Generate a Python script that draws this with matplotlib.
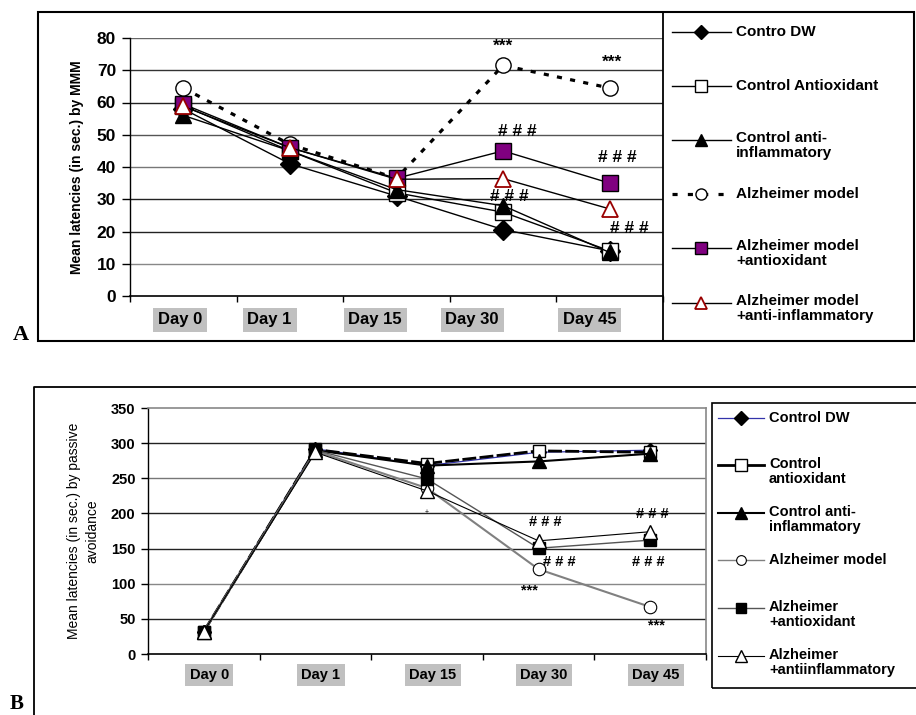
import matplotlib
matplotlib.use("Agg")
import matplotlib.pyplot as plt
from matplotlib.lines import Line2D

plt.rcParams['font.family'] = ['Liberation Sans', 'DejaVu Sans']

## Data
days = ['Day 0', 'Day 1', 'Day 15', 'Day 30', 'Day 45']

# Panel A - MWM latencies
a_names = ['Contro DW', 'Control Antioxidant', 'Control anti-\ninflammatory',
           'Alzheimer model', 'Alzheimer model\n+antioxidant',
           'Alzheimer model\n+anti-inflammatory']
a_control_dw = [58, 41, 31, 20.6, 14]
a_control_antiox = [59, 45, 32, 26, 14]
a_control_antiinf = [56, 45, 33, 28, 13.5]
a_alz = [64.5, 47, 36.5, 71.5, 64.5]
a_alz_antiox = [59.5, 46, 36.5, 45, 35]
a_alz_antiinf = [58.8, 46, 36.2, 36.4, 27]

# Panel B - passive avoidance latencies
b_names = ['Control DW', 'Control\nantioxidant', 'Control anti-\ninflammatory',
           'Alzheimer model', 'Alzheimer\n+antioxidant',
           'Alzheimer\n+antiinflammatory']
b_control_dw = [32, 292, 268, 287, 290]
b_control_antiox = [32, 291, 271, 289, 287]
b_control_antiinf = [32, 290, 268, 274, 285]
b_alz = [32, 289, 236, 120.6, 67]
b_alz_antiox = [32, 290, 249, 150.5, 162]
b_alz_antiinf = [32, 287, 232, 161, 174]

W, H = 916, 715


def fx(px):
    return px / W


def fy(py):
    return 1 - py / H


fig = plt.figure(figsize=(9.16, 7.15), dpi=100)
fig.patch.set_facecolor('white')

x = list(range(len(days)))

# ---------------- Panel A ----------------
axA = fig.add_axes([fx(130), fy(296), fx(533), 258 / H])
a_series = [a_control_dw, a_control_antiox, a_control_antiinf, a_alz, a_alz_antiox, a_alz_antiinf]
a_styles = [
    dict(marker='D', ms=10, mfc='black', mec='black', color='black', lw=1),
    dict(marker='s', ms=11, mfc='white', mec='black', color='black', lw=1),
    dict(marker='^', ms=12, mfc='black', mec='black', color='black', lw=1),
    dict(marker='o', ms=11, mfc='white', mec='black', color='black', lw=2.3, ls=(0, (1.6, 2.6))),
    dict(marker='s', ms=12, mfc='#800080', mec='black', color='black', lw=1),
    dict(marker='^', ms=12, mfc='white', mec='#990000', mew=1.3, color='black', lw=1),
]
for s, st in zip(a_series, a_styles):
    axA.plot(x, s, zorder=3, **st)

axA.set_xlim(-0.5, 4.5)
axA.set_ylim(0, 80)
axA.set_yticks(range(0, 81, 10))
grid_a = ['#888888', '#222222', '#222222', '#777777', '#555555', '#222222', '#333333', '#666666']
for v, c in zip(range(10, 81, 10), grid_a):
    axA.axhline(v, color=c, lw=1, zorder=1)
axA.set_xticks([-0.5, 0.5, 1.5, 2.5, 3.5, 4.5])
axA.set_xticklabels([])
axA.tick_params(axis='x', direction='out', length=4, width=1)
axA.tick_params(axis='y', direction='out', length=6, width=1, pad=4)
for lab in axA.get_yticklabels():
    lab.set_fontweight('bold')
    lab.set_fontsize(12.5)
axA.spines['top'].set_visible(False)
axA.spines['right'].set_visible(False)
axA.spines['left'].set_linewidth(1)
axA.spines['bottom'].set_linewidth(1.2)
axA.set_ylabel('Mean latencies (in sec.) by MMM', fontsize=10, fontweight='bold', labelpad=9)

a_label_x = [-0.03, 0.81, 1.8, 2.71, 3.81]
for xi, d in zip(a_label_x, days):
    axA.text(xi, -7.4, d, ha='center', va='center', fontsize=12, fontweight='bold',
             bbox=dict(boxstyle='square,pad=0.28', fc='#c0c0c0', ec='none'), clip_on=False)

a_notes = [(3.0, 77.5, '***'), (4.02, 72.5, '***'), (3.13, 51, '# # #'),
           (4.07, 43, '# # #'), (3.06, 31, '# # #'), (4.18, 21, '# # #')]
for xi, yi, t in a_notes:
    axA.text(xi, yi, t, ha='center', va='center', fontsize=12.5, fontweight='bold', zorder=5)

# outer box and legend divider
fig.add_artist(plt.Rectangle((fx(38), fy(341)), fx(876), 329 / H, fill=False, ec='black', lw=1.5,
                             transform=fig.transFigure))
fig.add_artist(Line2D([fx(663), fx(663)], [fy(12), fy(341)], color='black', lw=1.3,
                      transform=fig.transFigure))
fig.text(fx(21), fy(340), 'A', fontsize=16, fontweight='bold', family='Liberation Serif',
         ha='center', va='baseline')

a_leg_y = [32, 86, 140, 194, 248, 303]
a_leg_ms = [7, 8, 9, 8, 8, 9]
for yy, st, ms, name in zip(a_leg_y, a_styles, a_leg_ms, a_names):
    st2 = dict(st)
    st2['ms'] = ms
    if 'ls' in st2:
        st2['ls'] = (0, (1.6, 3.2))
        st2['lw'] = 2.3
    fig.add_artist(Line2D([fx(672), fx(701), fx(731)], [fy(yy)] * 3, markevery=[1],
                          transform=fig.transFigure, **st2))
    if '\n' in name:
        fig.text(fx(736), fy(yy - 9), name, fontsize=11, fontweight='bold', va='top',
                 linespacing=1.1)
    else:
        fig.text(fx(736), fy(yy), name, fontsize=11, fontweight='bold', va='center')

# ---------------- Panel B ----------------
axB = fig.add_axes([fx(148), fy(654), fx(558), 246 / H])
b_series = [b_control_dw, b_control_antiox, b_control_antiinf, b_alz, b_alz_antiox, b_alz_antiinf]
b_styles = [
    dict(marker='D', ms=7, mfc='black', mec='black', color='#3333aa', lw=0.9),
    dict(marker='s', ms=9, mfc='white', mec='black', color='black', lw=2, ls=(0, (5, 1.2))),
    dict(marker='^', ms=10, mfc='black', mec='black', color='black', lw=1.5),
    dict(marker='o', ms=9, mfc='white', mec='black', mew=0.8, color='#808080', lw=1.5),
    dict(marker='s', ms=8, mfc='black', mec='black', color='#555555', lw=1),
    dict(marker='^', ms=10, mfc='white', mec='black', color='black', lw=0.8),
]
for s, st in zip(b_series, b_styles):
    axB.plot(x, s, zorder=3, **st)

axB.set_xlim(-0.5, 4.5)
axB.set_ylim(0, 350)
axB.set_yticks(range(0, 351, 50))
grid_b = ['#222222', '#888888', '#222222', '#222222', '#777777', '#222222']
for v, c in zip(range(50, 301, 50), grid_b):
    axB.axhline(v, color=c, lw=1, zorder=1)
axB.set_xticks([-0.5, 0.5, 1.5, 2.5, 3.5, 4.5])
axB.set_xticklabels([])
axB.tick_params(axis='x', direction='out', length=4, width=1)
axB.tick_params(axis='y', direction='out', length=5, width=1, pad=4)
for lab in axB.get_yticklabels():
    lab.set_fontweight('bold')
    lab.set_fontsize(10.5)
axB.spines['top'].set_color('#888888')
axB.spines['right'].set_color('#888888')
axB.spines['top'].set_linewidth(1.2)
axB.spines['right'].set_linewidth(1.2)
axB.spines['left'].set_linewidth(1)
axB.spines['bottom'].set_linewidth(1.2)
axB.set_ylabel('Mean latencies (in sec.) by passive\navoidance', fontsize=10, labelpad=8,
               linespacing=1.4)

for xi, d in zip(x, days):
    axB.text(xi + 0.05, -30, d, ha='center', va='center', fontsize=10.5, fontweight='bold',
             bbox=dict(boxstyle='square,pad=0.3', fc='#c0c0c0', ec='none'), clip_on=False)

b_notes = [(3.06, 188, '# # #'), (4.02, 199, '# # #'), (3.19, 131, '# # #'),
           (3.98, 131, '# # #'), (2.92, 91, '***'), (4.06, 40, '***')]
for xi, yi, t in b_notes:
    axB.text(xi, yi, t, ha='center', va='center', fontsize=10.5, fontweight='bold', zorder=5)
axB.text(2.0, 202, '+', ha='center', va='center', fontsize=5)

# outer frame (open at right/bottom)
fig.add_artist(Line2D([fx(34), fx(34), fx(916)], [0, fy(387), fy(387)], color='black', lw=1.3,
                      transform=fig.transFigure))
fig.text(fx(17), fy(714), 'B', fontsize=15, fontweight='bold', family='Liberation Serif',
         ha='center', va='bottom')

fig.add_artist(plt.Rectangle((fx(712), fy(688)), fx(210), 285 / H, fill=False, ec='black', lw=1.2,
                             transform=fig.transFigure))
b_leg_y = [418, 465, 513, 560, 608, 656]
b_leg_ms = [7, 8, 9, 7, 7, 8]
for yy, st, ms, name in zip(b_leg_y, b_styles, b_leg_ms, b_names):
    st2 = dict(st)
    st2['ms'] = ms
    st2.pop('ls', None)
    if name == 'Alzheimer model':
        st2['lw'] = 1
    fig.add_artist(Line2D([fx(718), fx(741), fx(764)], [fy(yy)] * 3, markevery=[1],
                          transform=fig.transFigure, **st2))
    if '\n' in name:
        fig.text(fx(769), fy(yy - 8), name, fontsize=10.5, fontweight='bold', va='top',
                 linespacing=1.05)
    else:
        fig.text(fx(769), fy(yy), name, fontsize=10.5, fontweight='bold', va='center')

fig.savefig('out.png', dpi=100, facecolor='white')
